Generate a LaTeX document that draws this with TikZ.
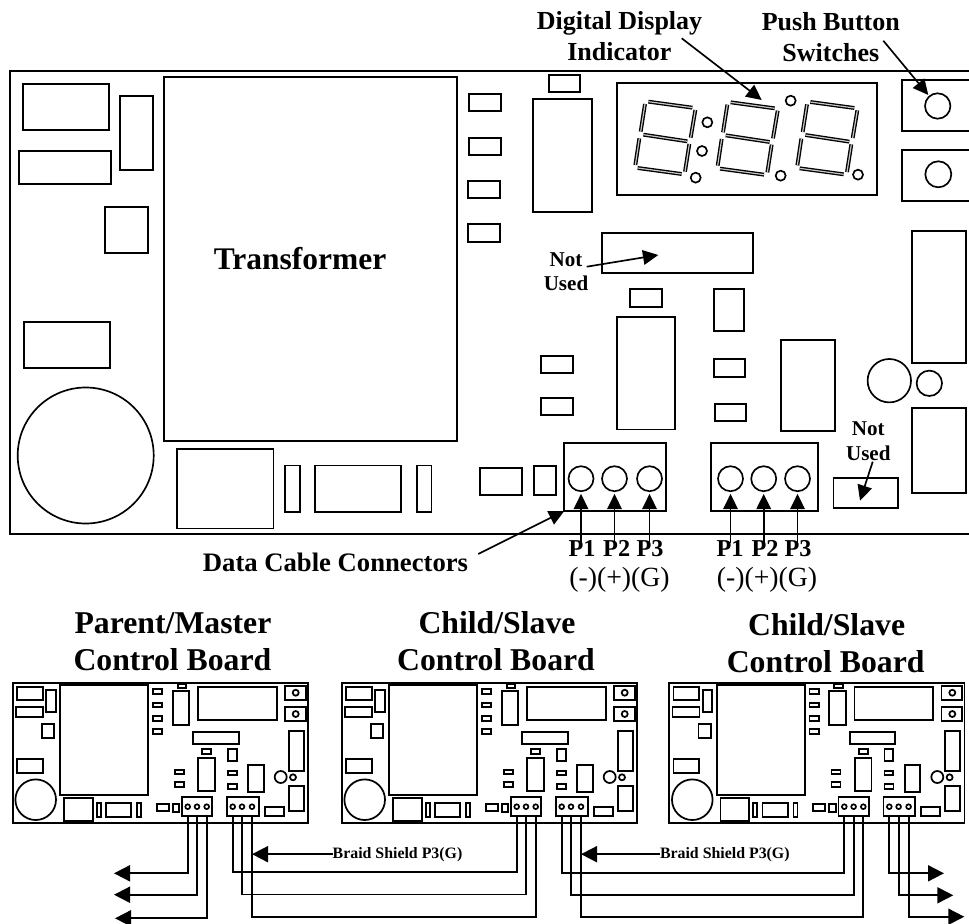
\documentclass[tikz,border=0pt]{standalone}
\usepackage{fontspec}
\setmainfont{Liberation Serif}
\usetikzlibrary{arrows.meta,calc}
\newcommand{\fsb}[1]{\fontsize{#1}{#1}\selectfont\bfseries}
\newcommand{\fsr}[1]{\fontsize{#1}{#1}\selectfont}
\tikzset{
  part/.style={draw=black,line width=1.25pt,fill=none},
  block/.style={draw=black,line width=1.3pt,rectangle,inner sep=0pt,outer sep=0pt},
  pin/.style={draw=black,line width=1.25pt,circle,inner sep=0pt,outer sep=0pt},
  lbl/.style={inner sep=0pt,outer sep=0pt,anchor=base,align=center},
  callout/.style={draw=black,line width=1.25pt,-{Triangle[length=11.5pt,width=11pt]}},
  wire/.style={draw=black,line width=1.35pt,line join=miter},
  wirearrow/.style={wire,-{Triangle[length=12pt,width=12pt]}},
  seg/.style={draw=black,line width=1pt,double=gray!45,double distance=.9pt},
}
\newcommand{\bx}[4]{\draw[part] (#1,#2) rectangle (#3,#4);}
\newcommand{\sbx}[4]{\draw[block] (#1,#2) rectangle (#3,#4);}
\newcommand{\nbx}[5]{%
  \pgfmathsetmacro{\nw}{(#4-#2)*.75}\pgfmathsetmacro{\nh}{(#5-#3)*.75}%
  \node[block,minimum width=\nw pt,minimum height=\nh pt] (#1) at ({(#2+#4)/2},{(#3+#5)/2}) {};}
\newcommand{\npin}[4]{%
  \pgfmathsetmacro{\nd}{#4*1.5}%
  \node[pin,minimum size=\nd pt] (#1) at (#2,#3) {};}
\newcommand{\digit}{%
  \draw[seg] (145,305)--(277,323);
  \draw[seg] (135,312)--(122,395);
  \draw[seg] (286,330)--(272,413);
  \draw[seg] (130,404)--(262,424);
  \draw[seg] (118,415)--(106,495);
  \draw[seg] (268,432)--(255,515);
  \draw[seg] (113,504)--(245,522);}
\newcommand{\smallboard}[2]{%
\begin{scope}[shift={(#2,0)}]
  \sbx{12.7}{682.7}{308}{823}
  \sbx{17}{687}{42.7}{699.7}
  \sbx{46.3}{690.3}{55.7}{712}
  \sbx{16}{707}{43}{716.7}
  \sbx{42}{724.3}{54.3}{737.7}
  \sbx{17}{759.3}{42.7}{772.7}
  \draw[block] (35.7,799.7) circle[radius=20.3];
  \sbx{60.3}{685.3}{148.3}{794.7}
  \sbx{64}{798}{92.7}{821.3}
  \sbx{96.7}{803}{100.7}{817}
  \sbx{106}{803}{131.3}{817}
  \sbx{137}{803}{141}{817}
  \sbx{153}{689.3}{162.3}{694}
  \sbx{153}{702.7}{162.3}{707.3}
  \sbx{153}{716}{162.3}{720.7}
  \sbx{153}{729.3}{162.3}{734}
  \sbx{177.7}{684}{186.3}{688}
  \sbx{172.7}{690.7}{189.3}{724.7}
  \sbx{198}{686.7}{276.7}{719.7}
  \sbx{285}{686}{305.7}{700.3}
  \sbx{285}{707}{305.7}{721.3}
  \draw[block] (295.7,692.7) circle[radius=3];
  \draw[block] (295.7,714) circle[radius=3];
  \sbx{193.3}{732}{238.7}{743.7}
  \sbx{202.3}{749}{211.3}{754}
  \sbx{198.3}{758}{215}{791.3}
  \sbx{228}{749.3}{236.7}{761.3}
  \sbx{175}{770}{184}{774.3}
  \sbx{175}{782.3}{184}{787}
  \sbx{228}{770.7}{236.7}{775}
  \sbx{228}{784.3}{237}{789}
  \sbx{248.3}{765.3}{263.7}{792}
  \sbx{288.7}{731.3}{303.7}{770.7}
  \sbx{288.7}{786}{303.7}{810.7}
  \draw[block] (280.7,777) circle[radius=6];
  \draw[block] (293,777.3) circle[radius=3];
  \sbx{264.7}{807}{283.7}{815.7}
  \sbx{156.7}{803.7}{168.7}{811}
  \sbx{172.7}{803.7}{179.3}{811.7}
  \nbx{#1T}{182}{796.7}{212.3}{816.3}
  \npin{#1Ta}{187.7}{806.7}{2.4}
  \npin{#1Tb}{197}{806.7}{2.4}
  \npin{#1Tc}{206.7}{806.7}{2.4}
  \nbx{#1U}{227}{796.7}{258.7}{816.3}
  \npin{#1Ua}{232.7}{806.7}{2.4}
  \npin{#1Ub}{242}{806.7}{2.4}
  \npin{#1Uc}{252}{806.7}{2.4}
  \foreach \q in {a,b,c}{
    \coordinate (#1Tw\q) at (#1T\q.south |- #1T.south);
    \coordinate (#1Uw\q) at (#1U\q.south |- #1U.south);
  }
\end{scope}}
\newcommand{\lane}[3]{%
  \coordinate (lanetmp) at (0,#3);
  \draw[wire] (#1) -- (#1 |- lanetmp) -- (#2 |- lanetmp) -- (#2);}
\begin{document}
\begin{tikzpicture}[x=.75pt,y=-.75pt]
\useasboundingbox (0,0) rectangle (969,923);
% ---- large board
\draw[part] (969,71) -- (10,71) -- (10,534) -- (969,534);
\bx{23}{84}{109}{130}
\bx{120}{96}{153}{170}
\bx{19}{151}{111}{184}
\bx{105}{207}{148}{253}
\bx{24}{322}{110}{368}
\draw[part] (85.7,455.5) circle[radius=68];
\node[block,minimum width=219.75pt,minimum height=273pt] (xfmr) at (310.5,259) {};
\node[lbl,font=\fsb{23.6}] (xfmrt) at (300,270) {Transformer};
\bx{177}{449}{273.5}{528.5}
\bx{285}{465.5}{300}{512}
\bx{315}{465.5}{401}{512}
\bx{417}{465.5}{431.5}{512}
\bx{469.3}{94}{501}{111.3}
\bx{469.3}{137.7}{501}{155}
\bx{468.3}{180.7}{500}{198.3}
\bx{468.3}{224.3}{500}{242}
\bx{548.7}{74.7}{580}{91.7}
\bx{533.3}{98.7}{591.7}{211.7}
\bx{617}{83.3}{876.7}{195}
\nbx{unusedA}{601.7}{233.3}{752.7}{273.3}
\bx{630.3}{289.3}{661.7}{307}
\bx{617}{317}{675.3}{429.5}
\bx{714}{289.3}{744.3}{330.7}
\bx{541}{355.7}{572.7}{373.3}
\bx{541.3}{398}{572.7}{415.3}
\bx{714}{359.3}{745.3}{376.7}
\bx{715}{404}{746}{421.3}
\bx{781}{340.3}{834.7}{431.3}
\bx{912.3}{231.3}{965.7}{363.3}
\bx{912.3}{407.7}{965.7}{493.3}
\draw[part] (889.3,380.7) circle[radius=21.7];
\draw[part] (929.3,383.3) circle[radius=12.7];
\nbx{unusedB}{833.5}{477.7}{898.3}{508.3}
\bx{480.3}{467.7}{522.3}{495}
\bx{534}{465.7}{556}{495}
% push buttons
\draw[part] (969,80) -- (901.7,80) -- (901.7,131) -- (969,131);
\draw[part] (969,150) -- (902.3,150) -- (902.3,201) -- (969,201);
\npin{btnA}{937.7}{106}{12.7}
\npin{btnB}{938.3}{174.3}{13}
% digits
\begin{scope}[shift={(600,0)},x=.25pt,y=-.25pt]
  \digit
  \begin{scope}[shift={(247,2)}]\digit\end{scope}
  \begin{scope}[shift={(486,1)}]\digit\end{scope}
  \foreach \cx/\cy in {322/367,306/453,287/533,572/302,542/527,774/524}
    \draw[part] (\cx,\cy) circle[radius=15];
\end{scope}
% terminals of large board
\nbx{tA}{564.3}{443.3}{666}{511}
\npin{tAa}{581}{478.7}{12.5}
\npin{tAb}{614.5}{478.7}{12.5}
\npin{tAc}{649.5}{478.7}{12.5}
\nbx{tB}{710.7}{443.3}{818}{511}
\npin{tBa}{730.5}{478.7}{12.5}
\npin{tBb}{763.7}{478.7}{12.5}
\npin{tBc}{797.5}{478.7}{12.5}
% labels of large board
\node[lbl,font=\fsb{19.5}] (ddi1) at (619.5,29.3) {Digital Display};
\node[lbl,font=\fsb{19.5}] (ddi2) at (619.3,60.7) {Indicator};
\node[lbl,font=\fsb{19.5}] (pbs1) at (830.8,30.7) {Push Button};
\node[lbl,font=\fsb{19.5}] (pbs2) at (830.8,61.7) {Switches};
\node[lbl,font=\fsb{15.8}] (nu1) at (566,266.7) {Not};
\node[lbl,font=\fsb{15.8}] (nu2) at (566,291) {Used};
\node[lbl,font=\fsb{15.8}] (nu3) at (868.3,435) {Not};
\node[lbl,font=\fsb{15.8}] (nu4) at (868.3,460) {Used};
\node[lbl,font=\fsb{20}] (dcc) at (335.5,571.7) {Data Cable Connectors};
\node[lbl,font=\fsb{18.2}] (pAa) at (582,556.7) {P1};
\node[lbl,font=\fsb{18.2}] (pAb) at (616.7,556.7) {P2};
\node[lbl,font=\fsb{18.2}] (pAc) at (650,556.7) {P3};
\node[lbl,font=\fsb{18.2}] (pBa) at (730,556.7) {P1};
\node[lbl,font=\fsb{18.2}] (pBb) at (765,556.7) {P2};
\node[lbl,font=\fsb{18.2}] (pBc) at (798,556.7) {P3};
\node[lbl,font=\fsr{20.8}] (polA) at (619.5,586) {(-)(+)(G)};
\node[lbl,font=\fsr{20.8}] (polB) at (767,586) {(-)(+)(G)};
% callouts
\coordinate (ddiS) at (681.7,38.3);
\coordinate (ddiT) at (761.7,100);
\coordinate (pbsS) at (883.3,40.7);
\coordinate (pbsT) at (928.3,95);
\coordinate (nuaS) at (586.7,266.7);
\coordinate (nuaT) at (658.3,255);
\coordinate (nubS) at (872.7,461.7);
\coordinate (nubT) at (860,500.7);
\coordinate (dccS) at (478.3,554);
\draw[callout] (ddiS) -- (ddiT);
\draw[callout] (pbsS) -- (pbsT);
\draw[callout] (nuaS) -- (nuaT);
\draw[callout] (nubS) -- (nubT);
\draw[callout] (dccS) -- (tA.south west);
\foreach \s in {A,B}\foreach \q in {a,b,c}{
  \draw[callout,shorten >=2pt,shorten <=-2pt] (t\s\q.south |- p\s\q.north) -- (t\s\q.south);
}
% ---- headings
\node[lbl,font=\fsb{23.8}] (h1a) at (173,633) {Parent/Master};
\node[lbl,font=\fsb{23.8}] (h1b) at (172.4,670) {Control Board};
\node[lbl,font=\fsb{23.8}] (h2a) at (497,633) {Child/Slave};
\node[lbl,font=\fsb{23.8}] (h2b) at (496,670.7) {Control Board};
\node[lbl,font=\fsb{23.8}] (h3a) at (826.6,635) {Child/Slave};
\node[lbl,font=\fsb{23.8}] (h3b) at (825.7,672) {Control Board};
% ---- small boards
\smallboard{bo}{0}
\smallboard{bt}{329}
\smallboard{bh}{656.6}
% wires out of first board
\coordinate (lftA) at (114,873.3);
\coordinate (lftB) at (114,894.7);
\coordinate (lftC) at (115,918.3);
\draw[wirearrow] (boTwa) |- (lftA);
\draw[wirearrow] (boTwb) |- (lftB);
\draw[wirearrow] (boTwc) |- (lftC);
% links between boards
\lane{boUwa}{btTwa}{872.3}
\lane{boUwb}{btTwb}{894.5}
\lane{boUwc}{btTwc}{917}
\lane{btUwa}{bhTwa}{872.7}
\lane{btUwb}{bhTwb}{895.3}
\lane{btUwc}{bhTwc}{916.7}
% wires out of last board
\coordinate (rgtA) at (944,873.3);
\coordinate (rgtB) at (953.3,895.3);
\coordinate (rgtC) at (964.3,916.7);
\draw[wirearrow] (bhUwa) |- (rgtA);
\draw[wirearrow] (bhUwb) |- (rgtB);
\draw[wirearrow] (bhUwc) |- (rgtC);
% braid shield
\node[lbl,anchor=base west,font=\fsb{11.9}] (brA) at (332.7,858) {Braid Shield P3(G)};
\node[lbl,anchor=base west,font=\fsb{11.9}] (brB) at (660,858) {Braid Shield P3(G)};
\draw[wirearrow] (brA.west) -- (boUwc |- brA.west);
\draw[wirearrow] (brB.west) -- (btUwc |- brB.west);
\end{tikzpicture}
\end{document}
